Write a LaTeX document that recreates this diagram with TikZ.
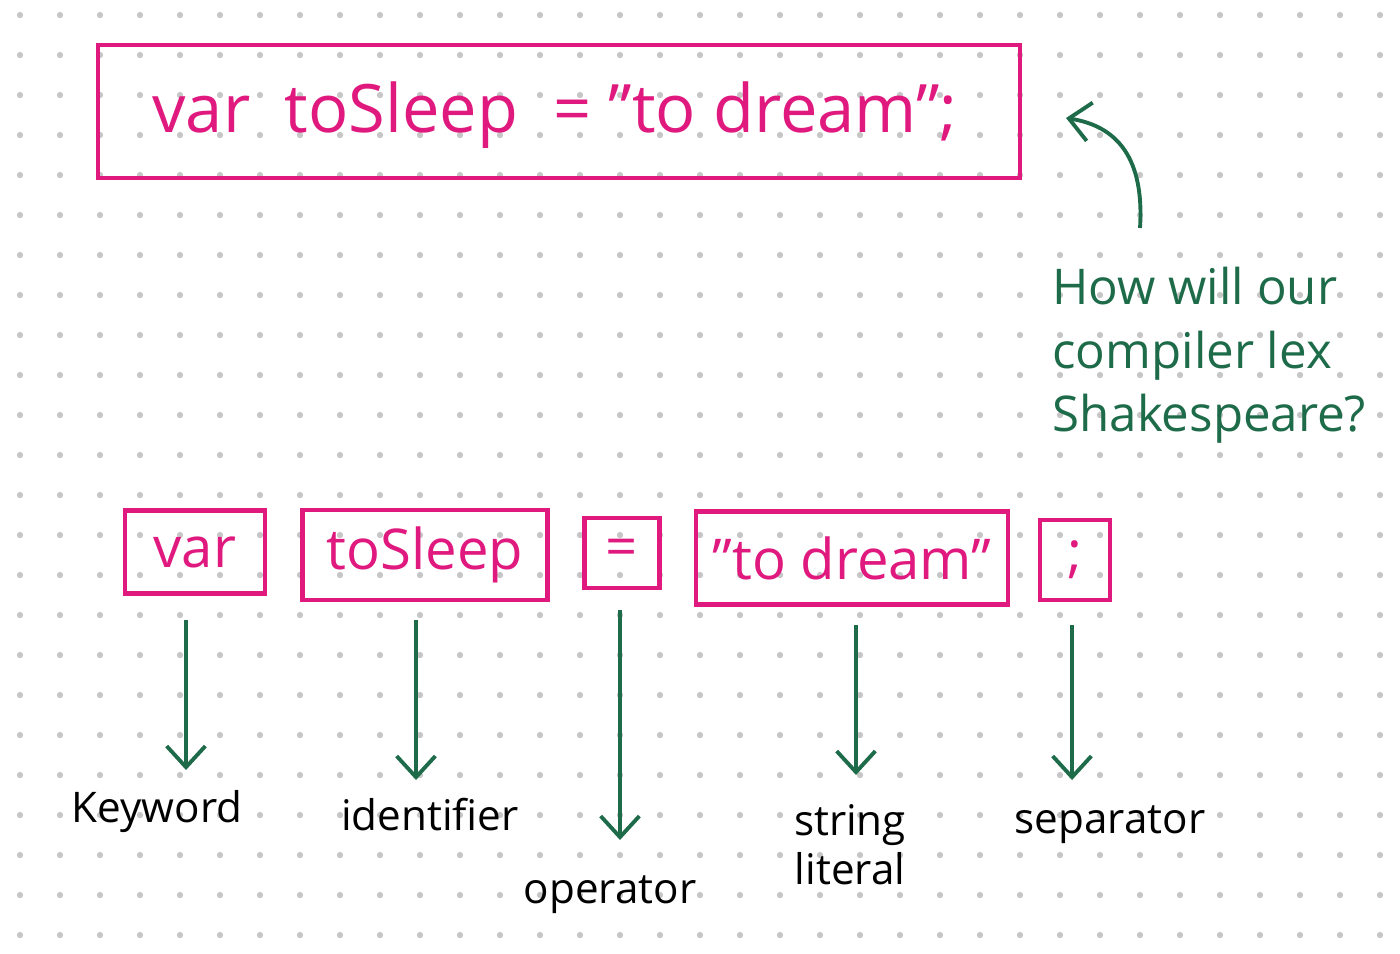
\documentclass[tikz,border=0pt]{standalone}
\usepackage{fontspec}
\setmainfont{Open Sans}
\usetikzlibrary{arrows.meta}
\definecolor{lexpink}{HTML}{E0197F}
\definecolor{lexgreen}{HTML}{1E6B4A}
\tikzset{
  tokbox/.style={draw=lexpink, line width=1.3pt, text=lexpink, inner sep=0pt, font=\fontsize{16}{20}\selectfont},
  tokarrow/.style={draw=lexgreen, line width=1.1pt, -{Straight Barb[length=6pt,width=11pt]}},
  kind/.style={font=\fontsize{12}{14}\selectfont, text=black, align=center}
}
\begin{document}
\begin{tikzpicture}[x=0.01cm, y=-0.01cm]
  \useasboundingbox (0,0) rectangle (1400,953);
  % dotted paper
  \foreach \i in {0,...,35} \foreach \j in {0,...,24}
    \fill[gray!45] (20+\i*40, 15+\j*40) circle (0.9pt);
  % whole statement
  \draw[tokbox] (98,45) rectangle (1020,178);
  \node[text=lexpink, font=\fontsize{19}{24}\selectfont] (stmt) at (555,115) {var\ \ toSleep\ \ = "to dream";};
  % curved note arrow
  \coordinate (tail) at (1140,228);
  \coordinate (head) at (1066,118);
  \draw[tokarrow] (tail) .. controls (1145,150) and (1110,125) .. (head);
  \node[text=lexgreen, font=\fontsize{14}{18}\selectfont, align=left, anchor=north west] (note) at (1040,255)
    {How will our\\compiler lex\\Shakespeare?};
  % tokens
  \node[tokbox, minimum width=1.40cm, minimum height=0.83cm] (tkvar) at (195,552) {var};
  \node[tokbox, minimum width=2.45cm, minimum height=0.90cm] (tkid) at (425,555) {toSleep};
  \node[tokbox, minimum width=0.75cm, minimum height=0.70cm] (tkop) at (622,553) {=};
  \node[tokbox, minimum width=3.12cm, minimum height=0.93cm] (tkstr) at (852,558) {"to dream"};
  \node[tokbox, minimum width=0.70cm, minimum height=0.80cm] (tksep) at (1075,560) {;};
  % kinds
  \node[kind] (kw) at (157,812) {Keyword};
  \node[kind] (ident) at (430,815) {identifier};
  \node[kind] (oper) at (610,895) {operator};
  \node[kind] (strl) at (850,845) {string\\literal};
  \node[kind] (sepr) at (1110,825) {separator};
  % arrow ends
  \coordinate (a1) at (186,620); \coordinate (b1) at (186,770);
  \coordinate (a2) at (416,620); \coordinate (b2) at (416,780);
  \coordinate (a3) at (620,610); \coordinate (b3) at (620,840);
  \coordinate (a4) at (856,625); \coordinate (b4) at (856,775);
  \coordinate (a5) at (1072,625); \coordinate (b5) at (1072,780);
  \foreach \k in {1,...,5}
    \draw[tokarrow] (a\k) -- (b\k);
\end{tikzpicture}
\end{document}
